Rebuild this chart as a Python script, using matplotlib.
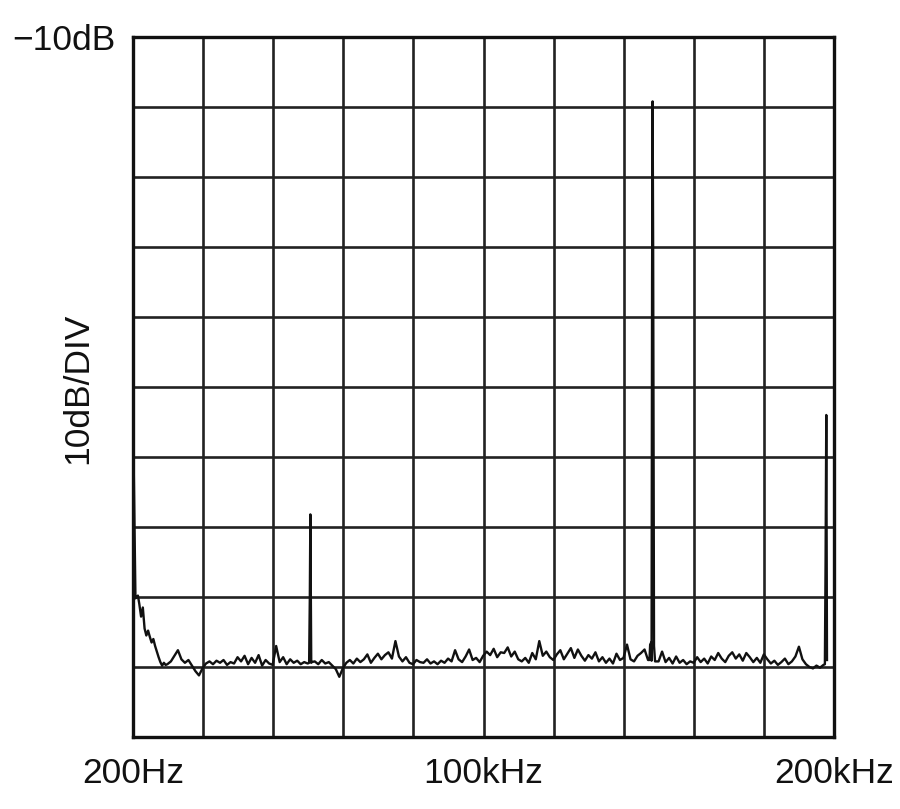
import numpy as np
import matplotlib
matplotlib.use("Agg")
import matplotlib.pyplot as plt

# ---- data (frequency in kHz, level in dB) ----
rolloff_f = [0.3, 0.9, 1.2, 1.6, 2.0, 2.5, 3.0, 3.5, 4.0, 4.5, 5.0, 5.5, 6.0,
             6.5, 7.0, 7.5, 8.0, 8.5, 9.0, 9.5]
rolloff_db = [-67.5, -90.2, -90.0, -89.8, -91.0, -92.8, -91.5, -94.5, -95.5,
              -94.8, -95.7, -96.5, -96.0, -97.0, -97.8, -98.6, -99.3, -99.8, -99.4, -99.7]

noise_f = list(range(10, 198))
noise_db = [
    -99.6, -99.2, -98.4, -97.6, -98.9, -99.4, -99.0, -99.8, -100.6, -101.2, -100.2,  # 10-20
    -99.5, -99.2, -99.6, -99.1, -99.4, -99.0, -99.7, -99.3, -99.5, -98.6,            # 21-30
    -99.2, -98.4, -99.6, -98.7, -99.4, -98.3, -99.8, -99.0, -99.5, -99.7,            # 31-40
    -97.0, -99.3, -98.6, -99.6, -98.9, -99.4, -99.1, -99.6, -99.3, -99.5,            # 41-50
    -99.4, -99.2, -99.6, -99.0, -99.5, -99.3, -99.8, -100.3, -101.4, -100.2,         # 51-60
    -99.4, -99.0, -99.5, -98.8, -99.3, -98.9, -98.2, -99.4, -98.7, -98.1,            # 61-70
    -98.9, -98.3, -97.9, -98.8, -96.3, -98.5, -99.2, -98.6, -99.4, -99.6,            # 71-80
    -99.0, -99.3, -99.4, -98.9, -99.5, -99.2, -99.6, -99.1, -99.4, -98.8,            # 81-90
    -99.2, -97.6, -98.9, -99.3, -98.5, -97.5, -99.0, -98.7, -99.3, -98.4,            # 91-100
    -97.8, -98.3, -97.4, -98.6, -97.9, -98.0, -97.2, -98.5, -97.8, -98.9,            # 101-110
    -99.2, -98.7, -99.4, -98.0, -98.9, -96.3, -98.4, -97.8, -98.6, -99.0,            # 111-120
    -98.2, -97.6, -98.9, -98.1, -97.3, -98.7, -97.5, -98.4, -99.1, -98.3,            # 121-130
    -98.8, -97.9, -99.2, -98.6, -99.4, -98.8, -99.5, -98.1, -99.0, -98.7,            # 131-140
    -96.8, -98.9, -99.2, -98.4, -98.0, -97.5, -99.0, -99.1, -99.2, -99.2,            # 141-150
    -97.8, -99.3, -98.7, -99.5, -98.5, -99.4, -99.0, -99.6, -99.2, -99.4,            # 151-160
    -98.6, -99.3, -98.8, -99.5, -98.5, -99.0, -98.0, -98.8, -99.3, -98.4,            # 161-170
    -97.9, -98.8, -98.2, -99.1, -98.0, -98.6, -99.3, -98.7, -99.4, -98.2,            # 171-180
    -98.9, -99.5, -99.1, -99.7, -99.3, -98.8, -99.6, -99.2, -98.5, -97.1,            # 181-190
    -98.9, -99.6, -100.0, -100.2, -99.8, -100.1, -99.7,                              # 191-197
]

spike_f = [50.4, 50.6, 50.75, 50.9, 51.1,
           147.4, 147.6, 147.9, 148.15, 148.3, 148.45, 148.7,
           197.4, 197.6, 197.8, 198.0]
spike_db = [-99.4, -90.0, -78.2, -92.0, -99.3,
            -99.0, -96.8, -96.5, -45.0, -19.2, -40.0, -97.0,
            -99.6, -85.0, -64.0, -99.0]

x_ticks = [0.2, 100, 200]
x_tick_labels = ["200Hz", "100kHz", "200kHz"]

# ---- assemble trace ----
f_all = np.array(rolloff_f + noise_f + spike_f, dtype=float)
db_all = np.array(rolloff_db + noise_db + spike_db, dtype=float)
order = np.argsort(f_all, kind="stable")
f_all, db_all = f_all[order], db_all[order]

plt.rcParams['font.family'] = ['Liberation Sans', 'DejaVu Sans']

fig = plt.figure(figsize=(9, 8.09), dpi=100)
ax = fig.add_axes([133 / 900, 72 / 809, 701 / 900, 700 / 809])

ax.set_xlim(0.2, 200)
ax.set_ylim(-110, -10)

grid_x = np.linspace(0.2, 200, 11)
grid_y = np.arange(-110, -9, 10)
ax.set_xticks(grid_x)
ax.set_yticks(grid_y)
ax.set_xticklabels([])
ax.set_yticklabels([])
ax.tick_params(length=0)
ax.grid(True, color="#222222", linewidth=1.9)
ax.set_axisbelow(True)
for s in ax.spines.values():
    s.set_linewidth(2.4)
    s.set_color("#111111")

ax.plot(f_all, db_all, color="#111111", linewidth=1.7, zorder=3)

for xt, lab in zip(x_ticks, x_tick_labels):
    ax.text(xt, -115.2, lab, ha="center", va="center", fontsize=25.5, color="#111111",
            clip_on=False)

fig.text(64 / 900, 1 - 41 / 809, "−10dB", ha="center", va="center", fontsize=25.5,
         color="#111111")
fig.text(78 / 900, 1 - 388 / 809, "10dB/DIV", ha="center", va="center", fontsize=25.5,
         rotation=90, color="#111111")

fig.savefig("out.png", dpi=100, facecolor="white")
